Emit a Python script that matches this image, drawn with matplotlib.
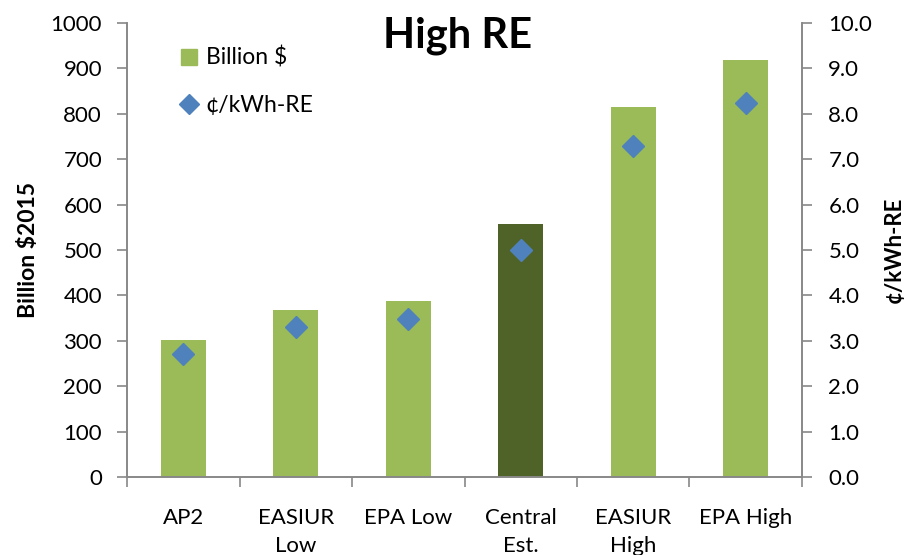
import numpy as np
import matplotlib.pyplot as plt
from matplotlib.lines import Line2D

plt.rcParams['font.family'] = ['Lato', 'DejaVu Sans']

categories = ["AP2", "EASIUR\nLow", "EPA Low", "Central\nEst.", "EASIUR\nHigh", "EPA High"]
billion = [302, 368, 388, 558, 814, 918]
cents_kwh = [2.72, 3.31, 3.49, 5.00, 7.29, 8.23]

light_green = "#9BBB59"
dark_green = "#4F6228"
blue = "#4F81BD"
axis_gray = "#888888"

fig = plt.figure(figsize=(9.1, 5.55), dpi=100)
ax = fig.add_axes([0.1396, 0.1405, 0.7417, 0.8181])
ax2 = ax.twinx()

x = np.arange(len(categories))
colors = [dark_green if c.startswith("Central") else light_green for c in categories]
ax.bar(x, billion, width=0.4, color=colors, zorder=2)
ax2.plot(x, cents_kwh, "D", color=blue, markersize=11.5, zorder=3)

ax.set_xlim(-0.5, len(categories) - 0.5)
ax.set_ylim(0, 1000)
ax2.set_ylim(0, 10)
ax.set_yticks(np.arange(0, 1001, 100))
ax2.set_yticks(np.arange(0, 10.1, 1))
ax2.set_yticklabels([f"{v:.1f}" for v in np.arange(0, 10.1, 1)])

ax.set_xticks(x)
ax.set_xticklabels(categories, linespacing=1.55)
ax.set_xticks(np.arange(-0.5, len(categories)), minor=True)
ax.tick_params(axis="x", which="major", length=0, pad=22, labelsize=16)
ax.tick_params(axis="x", which="minor", length=7, color=axis_gray, width=1.2)
ax.tick_params(axis="y", length=7, color=axis_gray, width=1.2, labelsize=16, pad=11)
ax2.tick_params(axis="y", length=7, color=axis_gray, width=1.2, labelsize=16, pad=12)

for a in (ax, ax2):
    a.spines["top"].set_visible(False)
    for s in ("left", "right", "bottom"):
        a.spines[s].set_color(axis_gray)
        a.spines[s].set_linewidth(1.2)

ax.set_ylabel("Billion $2015", fontsize=16.5, fontweight="bold", labelpad=8)
ax2.set_ylabel("¢/kWh-RE", fontsize=16, fontweight="bold", labelpad=8)

fig.text(0.503, 0.935, "High RE", fontsize=30, fontweight="bold", ha="center", va="center")

handles = [
    Line2D([], [], marker="s", linestyle="none", color=light_green, markersize=11),
    Line2D([], [], marker="D", linestyle="none", color=blue, markersize=10),
]
ax.legend(handles, ["Billion $", "¢/kWh-RE"], loc="upper left", bbox_to_anchor=(0.045, 0.993),
          frameon=False, fontsize=16.5, handletextpad=0.2, labelspacing=1.15, handlelength=1.0)

fig.savefig("out.png", dpi=100)
